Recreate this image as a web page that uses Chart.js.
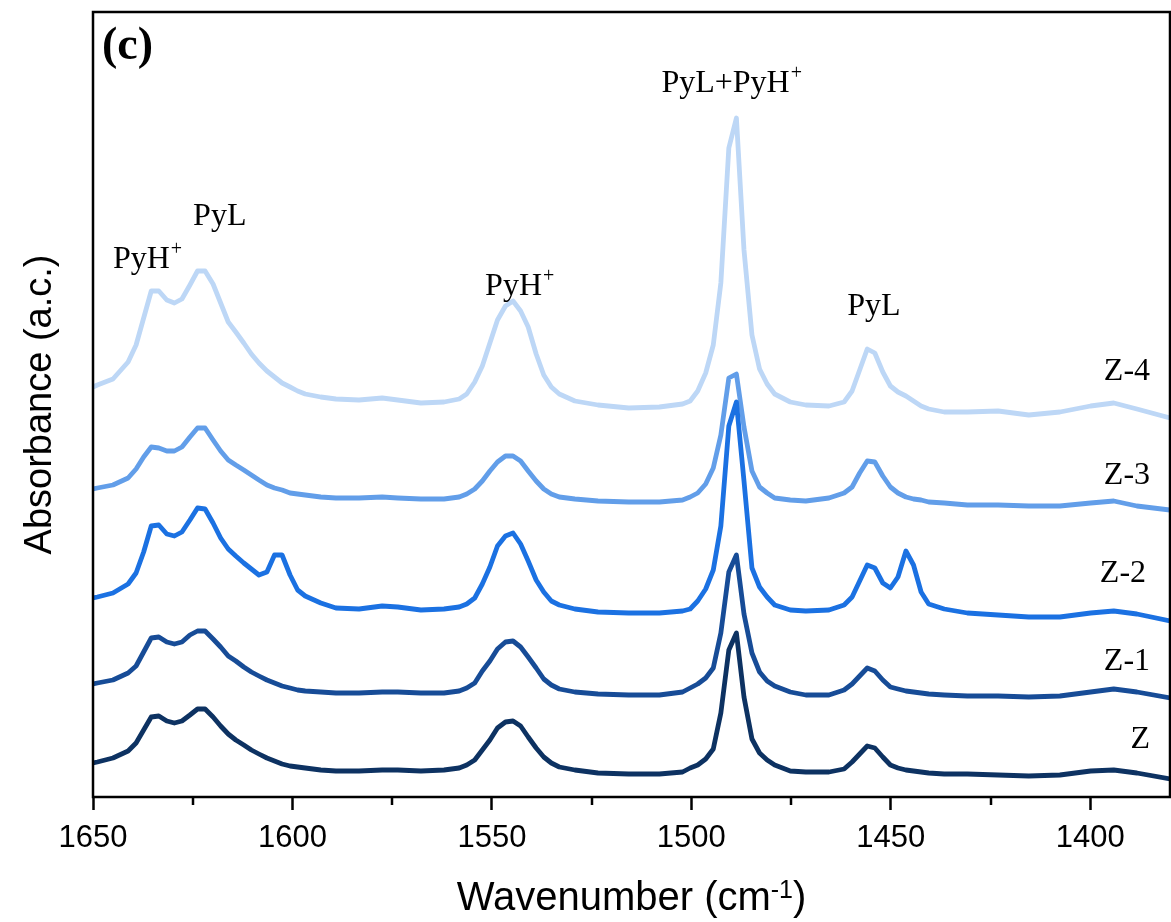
<!DOCTYPE html>
<html>
<head>
<meta charset="utf-8">
<script src="https://cdn.jsdelivr.net/npm/chart.js@4.4.1/dist/chart.umd.min.js"></script>
<style>
html,body{margin:0;padding:0;background:#fff;}
canvas{display:block;}
</style>
</head>
<body>
<canvas id="c" width="1171" height="922"></canvas>
<script>
// Wavenumber grid (cm-1)
const wavenumbers = [1650,1648.9,1645.0,1641.2,1639.2,1637.3,1635.4,1633.5,1631.5,1629.6,
  1627.7,1625.7,1623.8,1621.9,1619.9,1618.0,1616.1,1614.2,1612.2,1610.3,
  1608.4,1606.4,1604.5,1602.6,1600.6,1598.7,1596.8,1592.9,1589.1,1583.3,
  1577.5,1573.6,1567.8,1562.0,1558.2,1556.3,1554.3,1552.4,1550.5,1548.6,
  1546.6,1544.7,1542.8,1540.9,1538.9,1537.0,1535.1,1533.1,1529.2,1523.4,
  1515.7,1508.0,1502.2,1500.3,1498.4,1496.4,1494.5,1492.6,1490.6,1488.7,
  1486.8,1484.8,1482.9,1481.0,1479.1,1475.2,1471.3,1465.5,1461.7,1459.7,
  1457.8,1455.9,1454.0,1452.0,1450.1,1448.2,1446.2,1444.3,1442.4,1440.5,
  1436.6,1430.8,1423.1,1415.4,1407.6,1399.9,1394.1,1388.3,1380.0];

// Stacked absorbance (a.u., offset for display)
const absZ = [0.34,0.35,0.39,0.46,0.54,0.67,0.80,0.81,0.76,0.74,
  0.76,0.82,0.88,0.88,0.80,0.71,0.63,0.57,0.52,0.47,
  0.43,0.39,0.36,0.33,0.31,0.30,0.29,0.27,0.26,0.26,
  0.27,0.27,0.26,0.27,0.29,0.32,0.37,0.47,0.57,0.69,
  0.75,0.76,0.71,0.60,0.49,0.40,0.34,0.30,0.27,0.24,
  0.23,0.23,0.25,0.29,0.32,0.38,0.48,0.84,1.47,1.64,
  1.00,0.58,0.44,0.37,0.32,0.26,0.25,0.25,0.28,0.35,
  0.43,0.51,0.49,0.40,0.32,0.29,0.27,0.26,0.25,0.24,
  0.23,0.23,0.22,0.21,0.22,0.26,0.27,0.24,0.18];

const absZ1 = [1.13,1.14,1.17,1.24,1.31,1.45,1.59,1.60,1.55,1.53,
  1.55,1.62,1.66,1.66,1.58,1.50,1.41,1.36,1.30,1.25,
  1.21,1.17,1.14,1.11,1.09,1.07,1.06,1.05,1.04,1.04,
  1.05,1.05,1.04,1.04,1.06,1.09,1.14,1.26,1.36,1.48,
  1.55,1.56,1.50,1.40,1.29,1.18,1.12,1.08,1.05,1.03,
  1.02,1.02,1.05,1.09,1.13,1.19,1.29,1.64,2.25,2.42,
  1.83,1.44,1.25,1.16,1.11,1.05,1.02,1.02,1.07,1.13,
  1.21,1.29,1.26,1.17,1.10,1.08,1.06,1.05,1.04,1.03,
  1.02,1.01,1.01,1.00,1.01,1.05,1.08,1.05,0.99];

const absZ2 = [1.99,2.00,2.04,2.13,2.24,2.45,2.71,2.72,2.63,2.61,
  2.65,2.77,2.89,2.88,2.74,2.59,2.48,2.41,2.34,2.28,
  2.22,2.25,2.42,2.42,2.22,2.07,2.01,1.94,1.89,1.88,
  1.91,1.90,1.87,1.88,1.90,1.93,1.99,2.13,2.30,2.51,
  2.61,2.64,2.53,2.36,2.17,2.05,1.96,1.92,1.88,1.85,
  1.84,1.84,1.86,1.88,1.96,2.08,2.27,2.71,3.71,3.95,
  3.16,2.29,2.10,2.00,1.92,1.87,1.86,1.87,1.92,2.00,
  2.16,2.32,2.29,2.14,2.09,2.20,2.46,2.32,2.05,1.93,
  1.88,1.84,1.82,1.80,1.80,1.84,1.86,1.83,1.76];

const absZ3 = [3.08,3.09,3.12,3.19,3.28,3.40,3.50,3.49,3.46,3.46,
  3.50,3.60,3.69,3.69,3.57,3.46,3.37,3.32,3.27,3.22,
  3.17,3.12,3.09,3.07,3.04,3.03,3.02,3.00,2.99,2.99,
  3.00,2.99,2.98,2.98,3.00,3.03,3.08,3.16,3.26,3.35,
  3.41,3.41,3.36,3.26,3.16,3.08,3.03,3.00,2.98,2.96,
  2.95,2.95,2.97,3.00,3.04,3.13,3.29,3.62,4.19,4.23,
  3.70,3.26,3.10,3.04,2.99,2.97,2.96,2.99,3.04,3.10,
  3.24,3.36,3.35,3.21,3.10,3.04,3.00,2.98,2.97,2.95,
  2.94,2.92,2.92,2.91,2.91,2.94,2.96,2.91,2.87];

const absZ4 = [4.10,4.12,4.18,4.35,4.52,4.79,5.06,5.06,4.97,4.94,
  4.98,5.12,5.26,5.26,5.13,4.94,4.75,4.65,4.54,4.43,
  4.34,4.26,4.20,4.14,4.10,4.06,4.03,4.00,3.98,3.97,
  3.99,3.97,3.94,3.95,3.98,4.03,4.15,4.31,4.54,4.77,
  4.91,4.96,4.86,4.70,4.43,4.22,4.10,4.03,3.96,3.92,
  3.89,3.90,3.93,3.96,4.06,4.24,4.52,5.14,6.49,6.79,
  5.47,4.62,4.28,4.13,4.03,3.95,3.92,3.91,3.95,4.06,
  4.27,4.48,4.44,4.25,4.11,4.05,4.01,3.96,3.91,3.88,
  3.85,3.85,3.86,3.82,3.85,3.91,3.94,3.88,3.79];

const seriesNames = ['Z', 'Z-1', 'Z-2', 'Z-3', 'Z-4'];
const seriesValues = [absZ, absZ1, absZ2, absZ3, absZ4];
const seriesColors = ['#0d3262', '#174c97', '#1b71e2', '#629ee9', '#bdd7f6'];

const xTickValues = [1650, 1600, 1550, 1500, 1450, 1400];
const xMinorTicks = [1625, 1575, 1525, 1475, 1425];

// Series label anchors (wavenumber, absorbance) - right aligned
const seriesLabelWn = [1385, 1385, 1386, 1385, 1385];
const seriesLabelAbs = [0.49, 1.27, 2.15, 3.13, 4.17];

// Peak assignment labels
const peakTexts = ['PyH', 'PyL', 'PyH', 'PyL+PyH', 'PyL'];
const peakSups  = ['+', '', '+', '+', ''];
const peakWn    = [1645.0, 1624.9, 1551.7, 1507.5, 1460.9];
const peakAbs   = [5.29, 5.72, 5.02, 7.05, 4.82];

const SANS = '"Liberation Sans", Arial, sans-serif';
const SERIF = '"Liberation Serif", "Times New Roman", serif';

const overlay = {
  id: 'overlay',
  afterDatasetsDraw(chart) {
    const {ctx, chartArea: a, scales: {x, y}} = chart;
    ctx.save();
    ctx.fillStyle = '#000';
    ctx.textBaseline = 'alphabetic';
    // peak labels
    peakTexts.forEach((t, i) => {
      const px = x.getPixelForValue(peakWn[i]);
      const py = y.getPixelForValue(peakAbs[i]);
      ctx.font = '32px ' + SERIF;
      ctx.textAlign = 'left';
      ctx.fillText(t, px, py);
      if (peakSups[i]) {
        const w = ctx.measureText(t).width;
        ctx.font = '20px ' + SERIF;
        ctx.fillText(peakSups[i], px + w + 1, py - 13);
      }
    });
    // series labels
    ctx.font = '32px ' + SERIF;
    ctx.textAlign = 'right';
    seriesNames.forEach((n, i) => {
      ctx.fillText(n, x.getPixelForValue(seriesLabelWn[i]), y.getPixelForValue(seriesLabelAbs[i]));
    });
    // panel label
    ctx.textAlign = 'left';
    ctx.font = 'bold 46px ' + SERIF;
    ctx.fillText('(c)', a.left + 9, a.top + 47);
    ctx.restore();
  },
  afterDraw(chart) {
    const {ctx, chartArea: a, scales: {x}} = chart;
    ctx.save();
    // frame
    ctx.strokeStyle = '#000';
    ctx.lineWidth = 2.5;
    ctx.strokeRect(a.left, a.top, a.right - a.left, a.bottom - a.top);
    // minor ticks
    xMinorTicks.forEach(v => {
      const px = Math.round(x.getPixelForValue(v));
      ctx.beginPath();
      ctx.moveTo(px, a.bottom);
      ctx.lineTo(px, a.bottom + 8);
      ctx.stroke();
    });
    // x-axis title with superscript
    const t1 = 'Wavenumber (cm', t2 = '-1', t3 = ')';
    ctx.fillStyle = '#000';
    ctx.textBaseline = 'alphabetic';
    ctx.textAlign = 'left';
    ctx.font = '40px ' + SANS;
    const w1 = ctx.measureText(t1).width, w3 = ctx.measureText(t3).width;
    ctx.font = '25px ' + SANS;
    const w2 = ctx.measureText(t2).width;
    const total = w1 + w2 + w3;
    const sx = (a.left + a.right) / 2 - total / 2;
    const base = 910;
    ctx.font = '40px ' + SANS;
    ctx.fillText(t1, sx, base);
    ctx.font = '25px ' + SANS;
    ctx.fillText(t2, sx + w1, base - 12);
    ctx.font = '40px ' + SANS;
    ctx.fillText(t3, sx + w1 + w2, base);
    ctx.restore();
  }
};

new Chart(document.getElementById('c'), {
  type: 'line',
  data: {
    datasets: seriesNames.map((n, i) => ({
      label: n,
      data: wavenumbers.map((w, k) => ({x: w, y: seriesValues[i][k]})),
      borderColor: seriesColors[i],
      borderWidth: 4.8,
      pointRadius: 0,
      tension: 0,
      fill: false,
      borderJoinStyle: 'round',
      borderCapStyle: 'round'
    }))
  },
  options: {
    responsive: false,
    animation: false,
    devicePixelRatio: 1,
    layout: {padding: {top: 12, right: 1, left: 0, bottom: 0}},
    plugins: {legend: {display: false}, tooltip: {enabled: false}},
    scales: {
      x: {
        type: 'linear',
        reverse: true,
        min: 1380,
        max: 1650,
        afterBuildTicks: s => { s.ticks = xTickValues.map(v => ({value: v})); },
        ticks: {
          font: {family: SANS, size: 31},
          color: '#000',
          padding: 10,
          maxRotation: 0,
          autoSkip: false,
          callback: v => String(v)
        },
        grid: {display: true, drawOnChartArea: false, drawTicks: true, tickLength: 13, tickWidth: 2.5, tickColor: '#000'},
        border: {display: false},
        afterFit: s => { s.height = 125; }
      },
      y: {
        min: 0,
        max: 7.85,
        ticks: {display: false},
        grid: {display: false},
        border: {display: false},
        title: {
          display: true,
          text: 'Absorbance (a.c.)',
          color: '#000',
          font: {family: SANS, size: 38},
          padding: {top: 18, bottom: 0}
        },
        afterFit: s => { s.width = 93; }
      }
    }
  },
  plugins: [overlay]
});
</script>
</body>
</html>
